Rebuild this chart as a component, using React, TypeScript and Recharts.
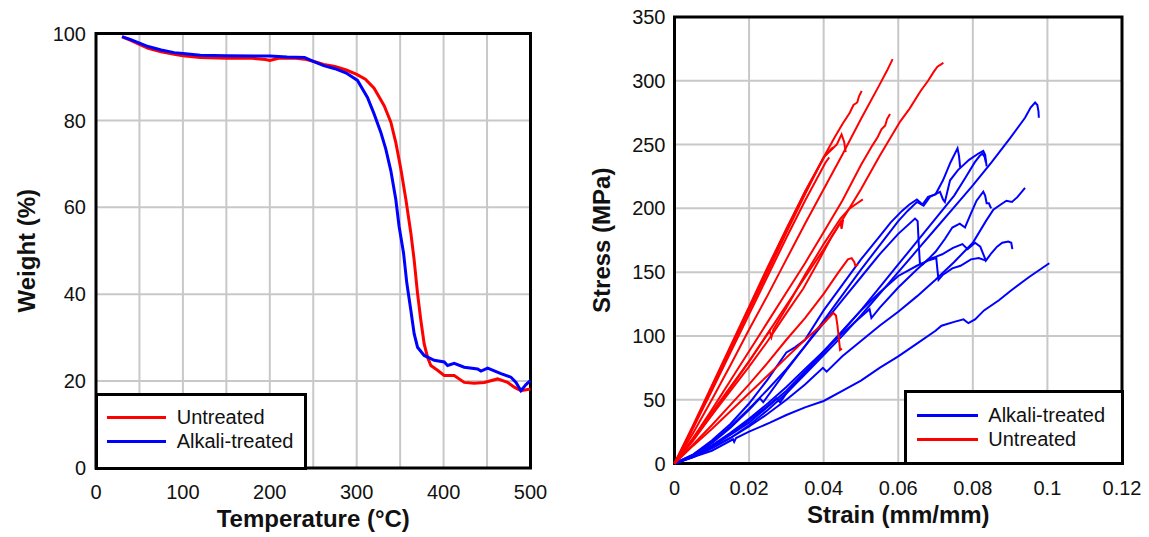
import {
  CartesianGrid,
  Label,
  Line,
  LineChart,
  ReferenceArea,
  XAxis,
  YAxis
} from "recharts";

const FONT = '"Liberation Sans", Arial, Helvetica, sans-serif';
const RED = "#ff0000";
const BLUE = "#0000ff";
const GRID = "#c8c8c8";
const INK = "#111111";

// --- TGA (left panel) ---
const tempTicks = [0, 50, 100, 150, 200, 250, 300, 350, 400, 450, 500];
const weightTicks = [0, 20, 40, 60, 80, 100];

const untreatedTemp = [
  30, 40, 50, 60, 75, 90, 100, 120, 150, 180, 195, 200, 210, 230, 240, 250,
  262, 275, 288, 300, 310, 320, 331.6, 339.3, 345, 350.8, 356.6, 362.3, 366.1,
  370, 373.8, 377.6, 381.5, 385.3, 393, 400.7, 412.2, 423.7, 435.2, 446.8,
  462.1, 473.6, 481.3, 489, 500
];
const untreatedWeight = [
  99.2, 98.4, 97.5, 96.6, 95.8, 95.2, 94.9, 94.5, 94.3, 94.3, 94.0, 93.8, 94.3,
  94.3, 94.1, 93.6, 92.9, 92.4, 91.6, 90.6, 89.5, 87.4, 83.4, 79.6, 74.9, 68.8,
  61.8, 54.1, 47.9, 40.2, 34.0, 28.6, 25.5, 23.6, 22.5, 21.3, 21.3, 19.7, 19.5,
  19.7, 20.5, 19.7, 18.6, 17.8, 18.2
];
const alkaliTemp = [
  30, 40, 50, 60, 75, 90, 100, 120, 150, 200, 220, 240, 250, 262, 275, 288,
  300.9, 312.4, 320, 327.8, 333.5, 339.3, 345, 348.8, 353.9, 357.7, 362.3,
  366.1, 370, 377.6, 389.2, 400.7, 404.6, 412.2, 423.7, 439.1, 443, 450.7, 466,
  477.5, 483.3, 489, 494.8, 499.8
];
const alkaliWeight = [
  99.3, 98.6, 97.8, 97.0, 96.2, 95.6, 95.4, 95.0, 94.9, 94.8, 94.6, 94.5, 93.6,
  92.6, 91.9, 90.9, 89.2, 85.3, 81.5, 77.2, 73.4, 68.4, 61.8, 55.6, 49.5, 42.5,
  36.3, 30.9, 27.8, 25.9, 24.8, 24.4, 23.6, 24.1, 23.2, 22.8, 22.3, 23.0, 21.7,
  20.9, 19.7, 17.8, 19.2, 20.1
];

// --- tensile (right panel), [strain, stress MPa] ---
const strainTicks = [0, 0.02, 0.04, 0.06, 0.08, 0.1, 0.12];
const stressTicks = [0, 50, 100, 150, 200, 250, 300, 350];

const untreatedA = [[0, 0], [0.005, 28], [0.01, 58], [0.015, 89], [0.02, 120], [0.025, 150], [0.03, 181], [0.035, 211], [0.04, 240], [0.043, 256], [0.045, 266], [0.047, 275], [0.048, 281], [0.049, 283], [0.0495, 288], [0.0502, 292]];
const untreatedB = [[0, 0], [0.005, 29], [0.01, 60], [0.015, 91], [0.02, 122], [0.025, 153], [0.03, 183], [0.035, 213], [0.04, 240], [0.0435, 250], [0.0448, 258], [0.0455, 252], [0.0459, 244]];
const untreatedC = [[0, 0], [0.005, 30], [0.01, 61], [0.015, 92], [0.02, 123], [0.025, 154], [0.03, 184], [0.035, 213], [0.0405, 242], [0.0425, 248]];
const untreatedD = [[0, 0], [0.005, 28], [0.01, 57], [0.015, 87], [0.02, 117], [0.025, 147], [0.03, 177], [0.035, 206], [0.0405, 236], [0.0415, 240]];
const untreatedE = [[0, 0], [0.005, 24], [0.01, 50], [0.015, 77], [0.02, 105], [0.025, 132], [0.03, 160], [0.035, 188], [0.04, 215], [0.045, 242], [0.05, 270], [0.055, 297], [0.057, 308], [0.0585, 317]];
const untreatedF = [[0, 0], [0.005, 20], [0.01, 42], [0.015, 65], [0.02, 88], [0.025, 111], [0.03, 134], [0.035, 157], [0.0395, 179], [0.045, 206], [0.05, 234], [0.053, 249], [0.0545, 256], [0.0555, 262], [0.0565, 265], [0.057, 270], [0.0578, 274]];
const untreatedG = [[0, 0], [0.005, 18], [0.01, 38], [0.015, 59], [0.02, 80], [0.025, 102], [0.03, 124], [0.035, 146], [0.04, 168], [0.045, 191], [0.05, 215], [0.055, 241], [0.0605, 268], [0.063, 278], [0.066, 292], [0.068, 300], [0.0695, 307], [0.0705, 311], [0.0721, 314]];
const untreatedH = [[0, 0], [0.005, 20], [0.01, 40], [0.015, 60], [0.02, 80], [0.0255, 104], [0.026, 99], [0.0265, 105], [0.03, 122], [0.035, 148], [0.04, 172], [0.0445, 192], [0.047, 200], [0.049, 204], [0.0505, 207]];
const untreatedI = [[0, 0], [0.005, 19], [0.01, 38], [0.015, 57], [0.02, 76], [0.025, 96], [0.0305, 120], [0.0345, 137], [0.0385, 158], [0.042, 177], [0.0445, 189], [0.0448, 184], [0.0452, 191]];
const untreatedJ = [[0, 0], [0.005, 15], [0.01, 30], [0.015, 46], [0.02, 62], [0.025, 79], [0.03, 97], [0.035, 114], [0.04, 133], [0.044, 150], [0.0465, 160], [0.0475, 161], [0.0482, 158], [0.0485, 155], [0.0492, 156]];
const untreatedK = [[0, 0], [0.005, 14], [0.01, 27], [0.015, 41], [0.02, 55], [0.025, 69], [0.03, 83], [0.035, 97], [0.04, 110], [0.0426, 118], [0.0433, 116], [0.0437, 108], [0.0441, 97], [0.0444, 89], [0.0449, 90]];

const alkaliA = [[0, 0], [0.005, 5], [0.01, 12], [0.015, 20], [0.02, 30], [0.025, 42], [0.03, 55], [0.035, 70], [0.04, 85], [0.045, 100], [0.05, 116], [0.055, 133], [0.06, 150], [0.065, 167], [0.07, 184], [0.075, 201], [0.08, 218], [0.085, 236], [0.09, 255], [0.094, 271], [0.0955, 279], [0.0967, 283], [0.0973, 281], [0.0976, 276], [0.0977, 271]];
const alkaliB = [[0, 0], [0.005, 7], [0.01, 18], [0.015, 31], [0.02, 47], [0.025, 66], [0.03, 87], [0.0323, 91], [0.035, 97], [0.04, 120], [0.045, 140], [0.05, 160], [0.055, 178], [0.058, 189], [0.061, 198], [0.063, 203], [0.065, 207], [0.0665, 203], [0.068, 209], [0.07, 211], [0.072, 222], [0.074, 236], [0.0759, 247], [0.0763, 241], [0.0766, 232]];
const alkaliC = [[0, 0], [0.005, 6], [0.01, 16], [0.015, 28], [0.02, 42], [0.0229, 51], [0.0238, 48], [0.03, 73], [0.035, 92], [0.04, 112], [0.045, 132], [0.05, 152], [0.055, 171], [0.06, 190], [0.0625, 198], [0.065, 205], [0.0668, 202], [0.0685, 209], [0.0712, 213], [0.072, 207], [0.0725, 205], [0.0739, 222], [0.076, 230], [0.079, 238], [0.0815, 243], [0.0828, 245], [0.0833, 242], [0.0837, 233]];
const alkaliD = [[0, 0], [0.005, 7], [0.01, 17], [0.015, 29], [0.02, 43], [0.025, 58], [0.03, 74], [0.035, 92], [0.04, 110], [0.045, 128], [0.05, 146], [0.055, 164], [0.06, 180], [0.0645, 192], [0.0652, 190], [0.0655, 172], [0.0658, 157], [0.0665, 156], [0.068, 160], [0.07, 162], [0.0718, 164], [0.073, 166], [0.0747, 169], [0.0772, 172], [0.0786, 168], [0.0806, 173], [0.082, 170], [0.0835, 159], [0.085, 165], [0.0865, 170], [0.0879, 173], [0.0895, 174], [0.0903, 173], [0.0906, 168]];
const alkaliE = [[0, 0], [0.005, 6], [0.01, 14], [0.015, 23], [0.02, 34], [0.025, 45], [0.0274, 51], [0.0283, 48], [0.03, 55], [0.035, 71], [0.04, 88], [0.045, 104], [0.05, 120], [0.055, 134], [0.06, 147], [0.065, 155], [0.068, 159], [0.0702, 161], [0.0705, 152], [0.0708, 144], [0.072, 148], [0.0745, 153], [0.0767, 155], [0.0795, 160], [0.0816, 161], [0.0835, 159]];
const alkaliF = [[0, 0], [0.005, 6], [0.01, 14], [0.015, 24], [0.02, 35], [0.025, 47], [0.03, 60], [0.035, 74], [0.04, 88], [0.045, 102], [0.05, 115], [0.0523, 121], [0.0528, 114], [0.055, 122], [0.06, 138], [0.065, 152], [0.068, 160], [0.07, 166], [0.0725, 176], [0.0745, 185], [0.0765, 188], [0.0779, 185], [0.0795, 196], [0.081, 206], [0.0828, 213], [0.0833, 210], [0.0837, 204], [0.0843, 204], [0.0849, 200]];
const alkaliG = [[0, 0], [0.005, 5], [0.01, 12], [0.015, 20], [0.02, 29], [0.025, 39], [0.03, 50], [0.035, 62], [0.0398, 75], [0.0408, 72], [0.045, 84], [0.05, 96], [0.055, 108], [0.06, 119], [0.065, 131], [0.07, 144], [0.075, 158], [0.08, 173], [0.0835, 190], [0.0855, 199], [0.0875, 203], [0.089, 206], [0.0905, 205], [0.092, 209], [0.094, 216]];
const alkaliH = [[0, 0], [0.005, 5], [0.01, 10], [0.0157, 19], [0.016, 17], [0.0165, 20], [0.02, 25], [0.0256, 32], [0.03, 38], [0.035, 44], [0.04, 49], [0.045, 57], [0.05, 65], [0.055, 75], [0.06, 84], [0.065, 94], [0.07, 104], [0.0716, 108], [0.075, 111], [0.0775, 113], [0.0788, 110], [0.0806, 113], [0.083, 120], [0.087, 128], [0.09, 135], [0.095, 146], [0.1, 156], [0.1005, 157]];
const alkaliI = [[0, 0], [0.01, 13], [0.02, 32], [0.03, 57], [0.04, 87], [0.05, 120], [0.06, 156], [0.07, 192], [0.075, 210], [0.078, 224], [0.0805, 236], [0.0818, 241], [0.0826, 243], [0.0832, 240], [0.0835, 236]];

const untreatedCurves = [untreatedA, untreatedB, untreatedC, untreatedD, untreatedE, untreatedF, untreatedG, untreatedH, untreatedI, untreatedJ, untreatedK];
const alkaliCurves = [alkaliA, alkaliB, alkaliC, alkaliD, alkaliE, alkaliF, alkaliG, alkaliH, alkaliI];

const tgaLegend = [
  { name: "Untreated", color: RED },
  { name: "Alkali-treated", color: BLUE }
];
const tensileLegend = [
  { name: "Alkali-treated", color: BLUE },
  { name: "Untreated", color: RED }
];

const zipSeries = (xs: number[], ys: number[]) =>
  xs.map((x, i) => ({ x, y: ys[i] }));
const toPoints = (pairs: number[][]) => pairs.map(([x, y]) => ({ x, y }));

const tickStyle = { fill: INK, fontSize: 20 };
const titleStyle = { fill: INK, fontSize: 24, fontWeight: 700 };

type LegendItem = { name: string; color: string };

function LegendBox({
  left,
  top,
  width,
  height,
  rows,
  lineLeft,
  lineWidth,
  textLeft,
  items
}: {
  left: number;
  top: number;
  width: number;
  height: number;
  rows: number[];
  lineLeft: number;
  lineWidth: number;
  textLeft: number;
  items: LegendItem[];
}) {
  return (
    <div
      style={{
        position: "absolute",
        left,
        top,
        width,
        height,
        boxSizing: "border-box",
        border: "3px solid #000",
        background: "#fff"
      }}
    >
      {items.map((item, i) => (
        <div key={item.name}>
          <div
            style={{
              position: "absolute",
              left: lineLeft - 3,
              top: rows[i] - 3 - 1.5,
              width: lineWidth,
              height: 3,
              background: item.color
            }}
          />
          <div
            style={{
              position: "absolute",
              left: textLeft - 3,
              top: rows[i] - 3 - 11.5,
              lineHeight: "23px",
              fontSize: 20,
              color: INK,
              whiteSpace: "nowrap"
            }}
          >
            {item.name}
          </div>
        </div>
      ))}
    </div>
  );
}

function TgaChart() {
  const untreated = zipSeries(untreatedTemp, untreatedWeight);
  const alkali = zipSeries(alkaliTemp, alkaliWeight);

  return (
    <LineChart
      width={570}
      height={537}
      margin={{ top: 33.5, right: 39.5, bottom: 0, left: 0 }}
    >
      <CartesianGrid stroke={GRID} strokeWidth={2} />
      <XAxis
        type="number"
        dataKey="x"
        domain={[0, 500]}
        ticks={tempTicks}
        interval={0}
        tickFormatter={(v: number) => (v % 100 === 0 ? String(v) : "")}
        axisLine={false}
        tickLine={false}
        tickSize={0}
        tickMargin={17}
        height={69}
        tick={tickStyle}
      >
        <Label value="Temperature (°C)" position="center" dy={16} style={titleStyle} />
      </XAxis>
      <YAxis
        type="number"
        domain={[0, 100]}
        ticks={weightTicks}
        interval={0}
        axisLine={false}
        tickLine={false}
        tickSize={0}
        tickMargin={10}
        width={96}
        tick={tickStyle}
      >
        <Label value="Weight (%)" position="center" angle={-90} dx={-22} style={titleStyle} />
      </YAxis>
      <Line
        data={untreated}
        dataKey="y"
        stroke={RED}
        strokeWidth={3}
        dot={false}
        type="linear"
        isAnimationActive={false}
      />
      <Line
        data={alkali}
        dataKey="y"
        stroke={BLUE}
        strokeWidth={3}
        dot={false}
        type="linear"
        isAnimationActive={false}
      />
      <ReferenceArea
        x1={0}
        x2={500}
        y1={0}
        y2={100}
        fill="none"
        stroke="#000"
        strokeWidth={3}
        ifOverflow="visible"
      />
    </LineChart>
  );
}

function TensileChart() {
  return (
    <LineChart
      width={569}
      height={537}
      margin={{ top: 17, right: 27, bottom: 0, left: 0 }}
    >
      <CartesianGrid stroke={GRID} strokeWidth={2} />
      <XAxis
        type="number"
        dataKey="x"
        domain={[0, 0.12]}
        ticks={strainTicks}
        interval={0}
        tickFormatter={(v: number) => String(v)}
        axisLine={false}
        tickLine={false}
        tickSize={0}
        tickMargin={17}
        height={73.5}
        tick={tickStyle}
      >
        <Label value="Strain (mm/mm)" position="center" dy={14} style={titleStyle} />
      </XAxis>
      <YAxis
        type="number"
        domain={[0, 350]}
        ticks={stressTicks}
        interval={0}
        axisLine={false}
        tickLine={false}
        tickSize={0}
        tickMargin={9}
        width={94.5}
        tick={tickStyle}
      >
        <Label value="Stress (MPa)" position="center" angle={-90} dx={-26} style={titleStyle} />
      </YAxis>
      {alkaliCurves.map((curve, i) => (
        <Line
          key={`alkali-${i}`}
          data={toPoints(curve)}
          dataKey="y"
          stroke={BLUE}
          strokeWidth={2}
          dot={false}
          type="linear"
          isAnimationActive={false}
        />
      ))}
      {untreatedCurves.map((curve, i) => (
        <Line
          key={`untreated-${i}`}
          data={toPoints(curve)}
          dataKey="y"
          stroke={RED}
          strokeWidth={2}
          dot={false}
          type="linear"
          isAnimationActive={false}
        />
      ))}
      <ReferenceArea
        x1={0}
        x2={0.12}
        y1={0}
        y2={350}
        fill="none"
        stroke="#000"
        strokeWidth={3}
        ifOverflow="visible"
      />
    </LineChart>
  );
}

export default function App() {
  return (
    <div
      style={{
        position: "absolute",
        left: 0,
        top: 0,
        width: 1149,
        height: 537,
        background: "#fff",
        fontFamily: FONT
      }}
    >
      <div style={{ position: "absolute", left: 0, top: 0 }}>
        <TgaChart />
      </div>
      <div style={{ position: "absolute", left: 580, top: 0 }}>
        <TensileChart />
      </div>
      <LegendBox
        left={94.5}
        top={393}
        width={212}
        height={76.5}
        rows={[24.7, 48]}
        lineLeft={12.2}
        lineWidth={59}
        textLeft={82.2}
        items={tgaLegend}
      />
      <LegendBox
        left={904}
        top={389.5}
        width={219.5}
        height={75.5}
        rows={[25.5, 49.8]}
        lineLeft={12.7}
        lineWidth={61}
        textLeft={84.3}
        items={tensileLegend}
      />
    </div>
  );
}
